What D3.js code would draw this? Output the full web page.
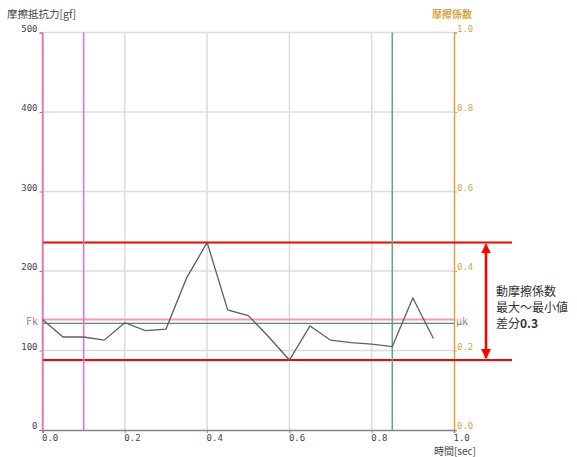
<!DOCTYPE html>
<html>
<head>
<meta charset="utf-8">
<script src="https://cdn.jsdelivr.net/npm/d3@7"></script>
<style>
  html, body { margin: 0; padding: 0; background: #fff; }
  svg { display: block; }
  .tick text { font-family: "DejaVu Sans Mono", monospace; font-size: 9px; }
</style>
</head>
<body>
<svg id="chart" width="577" height="457"></svg>
<script>
// Friction test record: resistance force over time
const times = [0.00, 0.05, 0.10, 0.15, 0.20, 0.25, 0.30, 0.35, 0.40, 0.45,
               0.50, 0.55, 0.60, 0.65, 0.70, 0.75, 0.80, 0.85, 0.90, 0.95];
const force = [139, 117, 117, 113, 135, 125, 127, 191, 236, 151,
               144, 117, 88, 131, 113, 110, 108, 105, 166, 115];

const forceTicks = [0, 100, 200, 300, 400, 500];
const coefTicks = [0.0, 0.2, 0.4, 0.6, 0.8, 1.0];
const timeTicks = [0.0, 0.2, 0.4, 0.6, 0.8, 1.0];

const fkForce = 139;        // kinetic friction force [gf]
const mukCoef = 0.268;      // kinetic friction coefficient
const rangeMarks = [0.0, 0.1];   // averaging window start / end
const endMark = 0.85;            // measurement end

const leftTitle = "摩擦抵抗力[gf]";
const rightTitle = "摩擦係数";
const bottomTitle = "時間[sec]";
const noteLines = ["動摩擦係数", "最大～最小値", "差分"];

const colors = {
  text: "#444",
  grid: "#dcdcdc",
  axis: "#858585",
  tan: "#d9a441",
  pink: "#f36cb6",
  pinkLight: "#ff8fc9",
  green: "#5aaa82",
  greenDark: "#3f9a68",
  red: "#ff0000",
  line: "#5f5f5f"
};

const svg = d3.select("#chart");
const defs = svg.append("defs");
const x = d3.scaleLinear().domain([0, 1]).range([42.5, 454]);
const y = d3.scaleLinear().domain([0, 500]).range([430, 32.5]);
const yR = d3.scaleLinear().domain([0, 1]).range([430, 32.5]);

// grid
const grid = svg.append("g");
grid.selectAll("line.h").data(forceTicks.filter(d => d > 0)).join("line")
  .attr("x1", x(0)).attr("x2", x(1))
  .attr("y1", d => y(d)).attr("y2", d => y(d))
  .attr("stroke", colors.grid).attr("stroke-width", 1.5);
grid.selectAll("line.v").data(timeTicks.filter(d => d > 0 && d < 1)).join("line")
  .attr("x1", d => x(d)).attr("x2", d => x(d))
  .attr("y1", y(500)).attr("y2", y(0))
  .attr("stroke", colors.grid).attr("stroke-width", 1.5);

// axes
const fmt1 = d3.format(".1f");
const gLeft = svg.append("g").attr("transform", `translate(${x(0)},0)`)
  .call(d3.axisLeft(y).tickValues(forceTicks).tickSize(3).tickPadding(2));
gLeft.select(".domain").attr("stroke", colors.axis);
gLeft.selectAll(".tick line").attr("stroke", colors.axis);
gLeft.selectAll(".tick text").attr("fill", colors.text).attr("dy", "-0.15em");

const gRight = svg.append("g").attr("transform", `translate(${x(1)},0)`)
  .call(d3.axisRight(yR).tickValues(coefTicks).tickFormat(fmt1).tickSize(3).tickPadding(0));
gRight.select(".domain").attr("stroke", colors.tan).attr("stroke-width", 1.5);
gRight.selectAll(".tick line").attr("stroke", colors.tan);
gRight.selectAll(".tick text").attr("fill", colors.tan).attr("dy", "-0.15em");

const gBottom = svg.append("g").attr("transform", `translate(0,${y(0)})`)
  .call(d3.axisBottom(x).tickValues(timeTicks).tickFormat(fmt1).tickSize(3).tickPadding(2));
gBottom.select(".domain").attr("stroke", colors.axis).attr("stroke-width", 1.5);
gBottom.selectAll(".tick line").attr("stroke", colors.axis);
gBottom.selectAll(".tick text").attr("fill", colors.text).attr("text-anchor", "start").attr("dx", "-1");

// axis titles
svg.append("text").attr("x", 7).attr("y", 18).text(leftTitle)
  .attr("font-family", "Noto Sans CJK JP, sans-serif").attr("font-size", 10.5).attr("fill", colors.text);
svg.append("text").attr("x", 472).attr("y", 18).attr("text-anchor", "end").text(rightTitle)
  .attr("font-family", "Noto Sans CJK JP, sans-serif").attr("font-size", 10).attr("font-weight", "bold").attr("fill", colors.tan);
svg.append("text").attr("x", 476).attr("y", 455).attr("text-anchor", "end").text(bottomTitle)
  .attr("font-family", "Noto Sans CJK JP, sans-serif").attr("font-size", 10).attr("fill", colors.text);

// max / min guides
const fMax = d3.max(force), fMin = d3.min(force);
svg.selectAll("line.range").data([fMax, fMin]).join("line")
  .attr("x1", x(0)).attr("x2", 512)
  .attr("y1", d => y(d)).attr("y2", d => y(d))
  .attr("stroke", colors.red).attr("stroke-width", 2);

// kinetic friction level lines
svg.append("line").attr("x1", x(0)).attr("x2", x(1))
  .attr("y1", y(fkForce)).attr("y2", y(fkForce))
  .attr("stroke", colors.pinkLight).attr("stroke-width", 2);
svg.append("line").attr("x1", x(0)).attr("x2", x(1))
  .attr("y1", yR(mukCoef)).attr("y2", yR(mukCoef))
  .attr("stroke", colors.greenDark).attr("stroke-width", 1.3);

// window markers
svg.selectAll("line.mark").data(rangeMarks).join("line")
  .attr("x1", d => x(d)).attr("x2", d => x(d))
  .attr("y1", y(500)).attr("y2", y(0))
  .attr("stroke", colors.pink).attr("stroke-width", 1.5);
svg.append("line").attr("x1", x(endMark)).attr("x2", x(endMark))
  .attr("y1", y(500)).attr("y2", y(0))
  .attr("stroke", colors.green).attr("stroke-width", 1.5);

// level labels: pink (force level) above, green (coefficient level) below
const grad = defs.append("linearGradient").attr("id", "lvl")
  .attr("x1", 0).attr("x2", 0).attr("y1", 0).attr("y2", 1);
grad.append("stop").attr("offset", "45%").attr("stop-color", colors.pink);
grad.append("stop").attr("offset", "55%").attr("stop-color", colors.greenDark);
const lab = (xx, t, anchor) => svg.append("text").attr("x", xx)
  .attr("y", (y(fkForce) + yR(mukCoef)) / 2 + 3.5)
  .attr("text-anchor", anchor).text(t).attr("fill", "url(#lvl)")
  .attr("font-family", "DejaVu Sans Mono, monospace").attr("font-size", 10);
lab(38, "Fk", "end");
lab(456, "μk", "start");

// force trace
const pts = times.map((t, i) => [t, force[i]]);
svg.append("path").datum(pts)
  .attr("d", d3.line().x(d => x(d[0])).y(d => y(d[1])))
  .attr("fill", "none").attr("stroke", colors.line).attr("stroke-width", 1.3);

// max-min span arrow
defs.append("marker").attr("id", "ah").attr("viewBox", "0 0 10 10")
  .attr("refX", 9).attr("refY", 5).attr("markerWidth", 4).attr("markerHeight", 4)
  .attr("orient", "auto-start-reverse").attr("markerUnits", "strokeWidth")
  .append("path").attr("d", "M0,0 L10,5 L0,10 z").attr("fill", colors.red);
const ax = 486;
svg.append("line").attr("x1", ax).attr("x2", ax)
  .attr("y1", y(fMax) + 2).attr("y2", y(fMin) - 2)
  .attr("stroke", colors.red).attr("stroke-width", 2.5)
  .attr("marker-start", "url(#ah)").attr("marker-end", "url(#ah)");

// span note, one text per line
const diff = ((fMax - fMin) / 500).toFixed(1);
noteLines.forEach((t, i) => {
  const txt = svg.append("text").attr("x", 496).attr("y", 296 + i * 16)
    .attr("font-family", "Noto Sans CJK JP, sans-serif")
    .attr("font-size", 12).attr("fill", "#333").text(t);
  if (i === noteLines.length - 1) {
    txt.append("tspan").attr("font-weight", "bold").text(diff);
  }
});
</script>
</body>
</html>
